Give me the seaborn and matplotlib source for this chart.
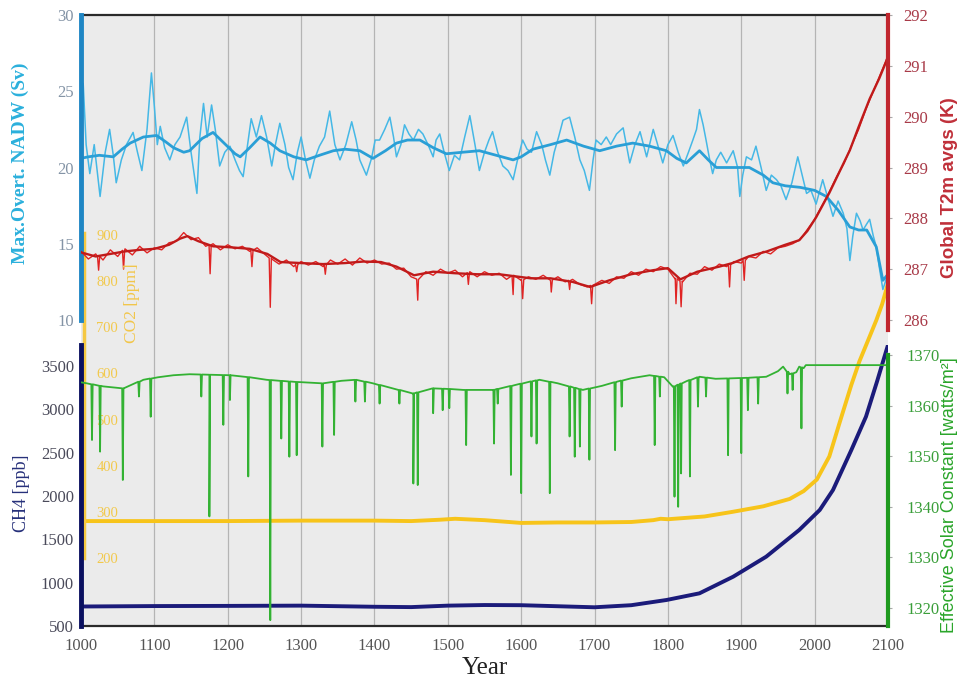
import numpy as np
import pandas as pd
import matplotlib
matplotlib.use("Agg")
import matplotlib.pyplot as plt
import seaborn as sns

# ---------------- data ----------------
x_ticks = list(range(1000, 2101, 100))

nadw_raw_year = [1000, 1003, 1007, 1012, 1018, 1026, 1033, 1039, 1044, 1048, 1055, 1062, 1071, 1077, 1083,
                 1090, 1096, 1100, 1104, 1108, 1114, 1121, 1128, 1135, 1144, 1150, 1158, 1162, 1167, 1172,
                 1178, 1183, 1189, 1196, 1203, 1210, 1216, 1221, 1227, 1232, 1239, 1246, 1253, 1260, 1265,
                 1271, 1278, 1283, 1289, 1295, 1300, 1306, 1312, 1318, 1325, 1332, 1339, 1346, 1353, 1361,
                 1369, 1375, 1380, 1389, 1396, 1401, 1407, 1414, 1421, 1426, 1430, 1436, 1441, 1447, 1453,
                 1460, 1466, 1473, 1480, 1484, 1489, 1495, 1502, 1509, 1516, 1523, 1530, 1537, 1543, 1550,
                 1556, 1561, 1568, 1575, 1582, 1589, 1595, 1602, 1608, 1614, 1621, 1628, 1633, 1639, 1645,
                 1651, 1657, 1666, 1673, 1680, 1686, 1693, 1698, 1702, 1709, 1716, 1722, 1730, 1739, 1748,
                 1755, 1762, 1771, 1780, 1786, 1793, 1800, 1807, 1814, 1821, 1828, 1834, 1839, 1843, 1848,
                 1852, 1857, 1861, 1866, 1872, 1880, 1889, 1895, 1898, 1902, 1907, 1914, 1920, 1927, 1934,
                 1941, 1948, 1954, 1961, 1969, 1977, 1983, 1989, 1995, 2002, 2007, 2011, 2018, 2025, 2032,
                 2039, 2044, 2048, 2052, 2057, 2062, 2066, 2071, 2075, 2080, 2084, 2088, 2093, 2097, 2100]
nadw_raw = [24.5, 25.5, 21.5, 19.6, 21.5, 18.1, 21.0, 22.5, 20.8, 19.0, 20.5, 21.5, 22.3, 21.0, 19.8,
            22.5, 26.2, 24.0, 21.5, 22.7, 21.3, 20.5, 21.5, 22.0, 23.3, 21.0, 18.3, 22.0, 24.2, 22.0,
            24.1, 22.5, 20.1, 21.0, 21.4, 20.5, 19.8, 19.4, 21.5, 23.2, 22.0, 23.4, 22.0, 20.1, 21.5,
            22.9, 21.5, 20.0, 19.2, 21.0, 22.0, 20.5, 19.3, 20.5, 21.4, 22.0, 23.7, 21.5, 20.5, 21.5,
            23.0, 21.8, 20.5, 19.5, 20.6, 21.8, 21.8, 22.5, 23.3, 22.0, 20.7, 21.5, 22.8, 22.2, 21.8,
            22.5, 22.2, 21.5, 20.7, 21.8, 22.2, 21.0, 19.8, 20.8, 20.5, 22.0, 23.4, 21.5, 19.8, 21.0,
            21.8, 22.35, 21.0, 20.1, 19.8, 19.2, 20.5, 21.8, 21.2, 21.0, 22.35, 21.5, 20.5, 19.5, 21.0,
            22.0, 23.1, 23.3, 22.0, 20.5, 19.8, 18.5, 20.5, 21.8, 21.5, 22.0, 21.5, 22.2, 22.6, 20.3,
            21.5, 22.35, 20.7, 22.5, 21.5, 20.3, 21.5, 22.1, 21.0, 20.1, 21.0, 21.8, 22.5, 23.8, 22.8,
            21.8, 20.5, 19.6, 20.5, 21.0, 20.3, 21.1, 20.0, 18.1, 19.5, 20.7, 20.5, 21.4, 20.0, 18.5,
            19.5, 19.2, 18.8, 17.9, 19.0, 20.7, 19.5, 18.3, 18.5, 17.6, 18.5, 19.2, 18.0, 16.8, 17.8,
            17.0, 16.0, 13.9, 15.5, 17.0, 16.5, 15.9, 16.3, 16.6, 15.5, 14.8, 13.5, 12.0, 12.6, 13.1]

nadw_smooth_year = [1000, 1010, 1025, 1044, 1056, 1067, 1085, 1103, 1115, 1126, 1140, 1148, 1165, 1180,
                    1195, 1210, 1217, 1230, 1244, 1258, 1271, 1290, 1307, 1325, 1344, 1360, 1380, 1398,
                    1415, 1430, 1445, 1462, 1480, 1498, 1520, 1543, 1566, 1589, 1600, 1616, 1640, 1662,
                    1685, 1707, 1730, 1752, 1775, 1798, 1812, 1825, 1843, 1855, 1866, 1890, 1911, 1930,
                    1943, 1960, 1980, 2000, 2016, 2032, 2048, 2060, 2071, 2084, 2093, 2100]
nadw_smooth = [20.6, 20.7, 20.8, 20.7, 21.2, 21.6, 22.0, 22.1, 21.7, 21.3, 21.0, 21.1, 21.9, 22.3,
               21.6, 20.9, 20.7, 21.3, 22.0, 21.6, 21.1, 20.7, 20.5, 20.8, 21.1, 21.2, 21.1, 20.6,
               21.1, 21.6, 21.8, 21.8, 21.3, 20.9, 21.0, 21.1, 20.8, 20.5, 20.7, 21.2, 21.5, 21.8,
               21.4, 21.1, 21.4, 21.6, 21.4, 21.1, 20.6, 20.3, 21.1, 20.5, 20.0, 20.0, 20.0, 19.5,
               19.0, 18.8, 18.7, 18.5, 18.1, 17.2, 16.1, 15.9, 15.9, 14.8, 12.6, 13.0]

t2m_raw_year = list(range(1000, 2101, 10))
t2m_raw = [287.35, 287.20, 287.30, 287.18, 287.38, 287.25, 287.40, 287.28, 287.45, 287.32,
           287.42, 287.38, 287.52, 287.55, 287.72, 287.58, 287.62, 287.45, 287.50, 287.38,
           287.48, 287.40, 287.45, 287.35, 287.42, 287.30, 287.20, 287.10, 287.18, 287.05,
           287.15, 287.08, 287.15, 287.05, 287.18, 287.10, 287.20, 287.08, 287.22, 287.12,
           287.18, 287.10, 287.12, 287.00, 287.02, 286.85, 286.80, 286.95, 286.88, 287.00,
           286.92, 286.98, 286.85, 286.95, 286.85, 286.95, 286.88, 286.92, 286.80, 286.88,
           286.78, 286.85, 286.80, 286.88, 286.78, 286.85, 286.75, 286.80, 286.70, 286.65,
           286.70, 286.78, 286.72, 286.85, 286.82, 286.95, 286.88, 287.00, 286.95, 287.05,
           287.00, 286.82, 286.75, 286.92, 286.90, 287.05, 286.98, 287.10, 287.05, 287.15,
           287.12, 287.25, 287.22, 287.35, 287.30, 287.42, 287.45, 287.50, 287.58, 287.78,
           287.98, 288.25, 288.52, 288.82, 289.08, 289.42, 289.75, 290.15, 290.50, 290.85,
           291.20]
t2m_spike_year = [1024, 1058, 1176, 1233, 1258, 1294, 1333, 1459, 1528, 1589, 1602, 1641, 1666, 1696,
                  1811, 1818, 1884, 1904]
t2m_spike = [286.98, 287.00, 286.91, 287.05, 286.25, 286.95, 286.90, 286.39, 286.70, 286.50, 286.42,
             286.55, 286.60, 286.32, 286.32, 286.26, 286.65, 286.78]

t2m_smooth_year = [1000, 1020, 1040, 1060, 1080, 1100, 1120, 1135, 1145, 1160, 1180, 1204, 1230, 1254,
                   1272, 1300, 1330, 1360, 1385, 1409, 1430, 1454, 1480, 1510, 1540, 1570, 1613, 1640,
                   1670, 1694, 1720, 1750, 1780, 1800, 1817, 1840, 1870, 1888, 1910, 1935, 1960, 1979,
                   1990, 2002, 2020, 2035, 2048, 2060, 2075, 2088, 2098, 2100]
t2m_smooth = [287.33, 287.25, 287.30, 287.35, 287.38, 287.40, 287.48, 287.60, 287.65, 287.55, 287.45,
              287.43, 287.40, 287.30, 287.14, 287.12, 287.10, 287.12, 287.15, 287.14, 287.05, 286.88,
              286.95, 286.92, 286.90, 286.90, 286.82, 286.82, 286.75, 286.65, 286.78, 286.90, 286.98,
              287.02, 286.80, 286.95, 287.05, 287.12, 287.25, 287.35, 287.48, 287.57, 287.75, 288.02,
              288.50, 288.95, 289.34, 289.80, 290.35, 290.75, 291.10, 291.20]

co2_year = [1000, 1100, 1200, 1300, 1400, 1450, 1490, 1510, 1550, 1600, 1650, 1700, 1750, 1780, 1790,
            1800, 1850, 1888, 1930, 1966, 1985, 2003, 2020, 2034, 2050, 2061, 2075, 2084, 2092, 2100]
co2 = [280, 280, 280, 281, 281, 280, 283, 285, 282, 276, 277, 277, 278, 282, 285,
       284, 290, 300, 312, 328, 345, 370, 420, 493, 575, 626, 680, 715, 750, 795]

ch4_year = [1000, 1100, 1200, 1300, 1400, 1450, 1500, 1550, 1600, 1650, 1700, 1750, 1798, 1843, 1889,
            1934, 1979, 2007, 2025, 2050, 2070, 2085, 2100]
ch4 = [725, 730, 732, 735, 722, 718, 735, 742, 740, 728, 716, 740, 800, 877, 1069,
       1300, 1608, 1839, 2069, 2530, 2916, 3320, 3743]

solar_base_year = [1000, 1008, 1030, 1058, 1085, 1105, 1126, 1148, 1175, 1203, 1230, 1253, 1290, 1330,
                   1355, 1375, 1398, 1425, 1453, 1480, 1500, 1521, 1562, 1590, 1611, 1625, 1650, 1684,
                   1710, 1730, 1750, 1775, 1795, 1807, 1825, 1843, 1865, 1889, 1910, 1934, 1950, 1957,
                   1966, 1975, 1979, 1985, 1988, 2100]
solar_base = [1364.6, 1364.4, 1363.8, 1363.4, 1365.1, 1365.6, 1366.0, 1366.2, 1366.1, 1366.0, 1365.6,
              1365.1, 1364.7, 1364.4, 1364.9, 1365.1, 1364.4, 1363.4, 1362.4, 1363.4, 1363.3, 1363.1,
              1363.1, 1364.0, 1364.7, 1365.1, 1364.4, 1363.1, 1363.9, 1364.7, 1365.4, 1366.0, 1365.6,
              1363.7, 1364.8, 1365.7, 1365.3, 1365.4, 1365.5, 1365.7, 1366.8, 1367.7, 1366.2, 1366.6,
              1367.7, 1367.4, 1368.0, 1368.0]
solar_dip_year = [1015, 1026, 1057, 1079, 1095, 1164, 1175, 1194, 1203, 1228, 1258, 1273, 1284, 1294,
                  1329, 1345, 1374, 1387, 1407, 1434, 1453, 1459, 1480, 1493, 1502, 1525, 1563, 1568,
                  1586, 1600, 1614, 1621, 1639, 1666, 1673, 1680, 1693, 1728, 1737, 1782, 1789, 1809,
                  1814, 1818, 1830, 1841, 1852, 1882, 1900, 1909, 1923, 1963, 1970, 1982]
solar_dip = [1353.2, 1350.9, 1345.3, 1361.8, 1357.8, 1361.8, 1338.1, 1356.2, 1361.1, 1346.0, 1317.6,
             1353.5, 1349.9, 1350.2, 1351.9, 1354.2, 1360.8, 1360.8, 1360.4, 1360.4, 1344.6, 1344.3,
             1358.5, 1359.1, 1359.5, 1352.2, 1352.5, 1360.4, 1346.3, 1342.7, 1353.9, 1352.5, 1342.7,
             1353.9, 1349.9, 1351.9, 1349.3, 1351.2, 1359.8, 1352.2, 1361.8, 1342.0, 1340.0, 1346.6,
             1346.0, 1359.8, 1361.8, 1350.2, 1350.6, 1359.1, 1360.4, 1362.4, 1363.1, 1355.5]

nadw_ticks = [10, 15, 20, 25, 30]
t2m_ticks = [286, 287, 288, 289, 290, 291, 292]
ch4_ticks = [500, 1000, 1500, 2000, 2500, 3000, 3500]
solar_ticks = [1320, 1330, 1340, 1350, 1360, 1370]
co2_ticks = [200, 300, 400, 500, 600, 700, 800, 900]


def with_spikes(xs, ys, sx, sy, half):
    """Attach read spike minima to a read series as narrow dips."""
    xs = np.asarray(xs, float)
    ys = np.asarray(ys, float)
    px, py = list(xs), list(ys)
    for x, y in zip(sx, sy):
        b = float(np.interp(x, xs, ys))
        px += [x - half, x + 1e-3, x + half]
        py += [b, y, b]
    order = np.argsort(px, kind="stable")
    return np.asarray(px)[order], np.asarray(py)[order]


def draw(ax, x, y, color, lw):
    sns.lineplot(x=np.asarray(x, float), y=np.asarray(y, float), ax=ax, color=color, lw=lw,
                 estimator=None, sort=False, errorbar=None)


# ---------------- figure ----------------
sns.set_theme(style="white")
plt.rcParams['font.family'] = ['Liberation Serif', 'DejaVu Serif']

W, H = 962, 684
fig = plt.figure(figsize=(W / 100, H / 100), dpi=100)
XL, XR = 81, 888


def box(y0, y1):
    return [XL / W, 1 - y1 / H, (XR - XL) / W, (y1 - y0) / H]


# base frame
ax0 = fig.add_axes(box(15, 626))
ax0.set_facecolor('#ebebeb')
ax0.set_xlim(1000, 2100)
ax0.set_ylim(0, 1)
ax0.set_yticks([])
ax0.set_xticks(x_ticks)
ax0.set_xticklabels([str(t) for t in x_ticks])
ax0.tick_params(axis='x', length=0, pad=9, labelsize=12, labelcolor='#555555')
for t in x_ticks[1:-1]:
    ax0.axvline(t, color='#b4b4b4', lw=0.9, zorder=0)
for s in ['left', 'right']:
    ax0.spines[s].set_visible(False)
for s in ['top', 'bottom']:
    ax0.spines[s].set_color('#2a2a2a')
    ax0.spines[s].set_linewidth(1.6)
ax0.set_xlabel('Year', fontsize=18, color='#222222', labelpad=2)


def overlay(ytop, ybot, vA, yA, vB, yB):
    ax = fig.add_axes(box(ytop, ybot))
    k = (vB - vA) / (yB - yA)
    ax.set_ylim(vA + (ybot - yA) * k, vA + (ytop - yA) * k)
    ax.set_xlim(1000, 2100)
    ax.patch.set_visible(False)
    for s in ax.spines.values():
        s.set_visible(False)
    ax.set_xticks([])
    ax.grid(False)
    return ax


# CO2 (yellow, inner left axis)
ax_co2 = overlay(233, 558, 900, 235, 200, 562)
draw(ax_co2, co2_year, co2, '#f7c41a', 2.8)
ax_co2.spines['left'].set_visible(True)
ax_co2.spines['left'].set_color('#f5c842')
ax_co2.spines['left'].set_linewidth(2.5)
ax_co2.spines['left'].set_position(('outward', -2))
ax_co2.set_yticks(co2_ticks)
ax_co2.tick_params(axis='y', direction='in', length=0, pad=-9, labelsize=10.5, labelcolor='#f2c94c')
for lab in ax_co2.get_yticklabels():
    lab.set_horizontalalignment('left')
ax_co2.set_ylabel('')

# CH4 (navy, lower left axis)
ax_ch4 = overlay(345, 626, 3500, 366, 500, 626)
draw(ax_ch4, ch4_year, ch4, '#1b1b7a', 2.8)
ax_ch4.spines['left'].set_visible(True)
ax_ch4.spines['left'].set_color('#0a1060')
ax_ch4.spines['left'].set_linewidth(3.5)
ax_ch4.set_yticks(ch4_ticks)
ax_ch4.tick_params(axis='y', length=3, width=0.8, color='#aaaaaa', pad=2, labelsize=12, labelcolor='#4a4a5a')
ax_ch4.set_ylabel('')

# Solar constant (green, lower right axis)
ax_sol = overlay(355, 626, 1370, 355, 1320, 608)
sx, sy = with_spikes(solar_base_year, solar_base, solar_dip_year, solar_dip, 0.9)
draw(ax_sol, sx, sy, '#33b233', 1.3)
ax_sol.spines['right'].set_visible(True)
ax_sol.spines['right'].set_color('#1f9a1f')
ax_sol.spines['right'].set_linewidth(3)
ax_sol.yaxis.tick_right()
ax_sol.set_yticks(solar_ticks)
ax_sol.tick_params(axis='y', length=3, width=0.8, color='#aaaaaa', pad=10, labelsize=12, labelcolor='#3a9e3a')
ax_sol.set_ylabel('')

# NADW (cyan, upper left axis)
ax_n = overlay(15, 320, 30, 15, 10, 320)
draw(ax_n, nadw_raw_year, nadw_raw, '#45b8e6', 1.1)
draw(ax_n, nadw_smooth_year, nadw_smooth, '#2a9fd6', 2.0)
ax_n.spines['left'].set_visible(True)
ax_n.spines['left'].set_color('#1f86c4')
ax_n.spines['left'].set_linewidth(3.5)
ax_n.set_yticks(nadw_ticks)
ax_n.tick_params(axis='y', length=3, width=0.8, color='#aaaaaa', pad=2, labelsize=12, labelcolor='#8494a6')
ax_n.set_ylabel('')

# Global T2m (red, upper right axis)
ax_t = overlay(15, 330, 292, 15, 286, 320)
tx, ty = with_spikes(t2m_raw_year, t2m_raw, t2m_spike_year, t2m_spike, 1.5)
draw(ax_t, tx, ty, '#e02424', 1.0)
draw(ax_t, t2m_smooth_year, t2m_smooth, '#c01a1a', 1.7)
ax_t.spines['right'].set_visible(True)
ax_t.spines['right'].set_color('#c0262e')
ax_t.spines['right'].set_linewidth(3)
ax_t.yaxis.tick_right()
ax_t.set_yticks(t2m_ticks)
ax_t.tick_params(axis='y', length=3, width=0.8, color='#aaaaaa', pad=8, labelsize=12, labelcolor='#a83a48')
ax_t.set_ylabel('')

# axis titles
fig.text(20 / W, 1 - 163 / H, 'Max.Overt. NADW (Sv)', rotation=90, ha='center', va='center',
         fontsize=14, fontweight='bold', color='#2bb0dc')
fig.text(22 / W, 1 - 493 / H, 'CH4 [ppb]', rotation=90, ha='center', va='center',
         fontsize=13, color='#26307a')
fig.text(132 / W, 1 - 303 / H, 'CO2 [ppm]', rotation=90, ha='center', va='center',
         fontsize=12.5, color='#f2c64a')
fig.text(950 / W, 1 - 188 / H, 'Global T2m avgs (K)', rotation=90, ha='center', va='center',
         fontsize=13.5, fontweight='bold', color='#c0303a', family=['Liberation Sans', 'DejaVu Sans'])
fig.text(950 / W, 1 - 495 / H, 'Effective Solar Constant [watts/m²]', rotation=90, ha='center', va='center',
         fontsize=13, color='#2aa52a', family=['Liberation Sans', 'DejaVu Sans'])

fig.savefig('out.png', dpi=100)
